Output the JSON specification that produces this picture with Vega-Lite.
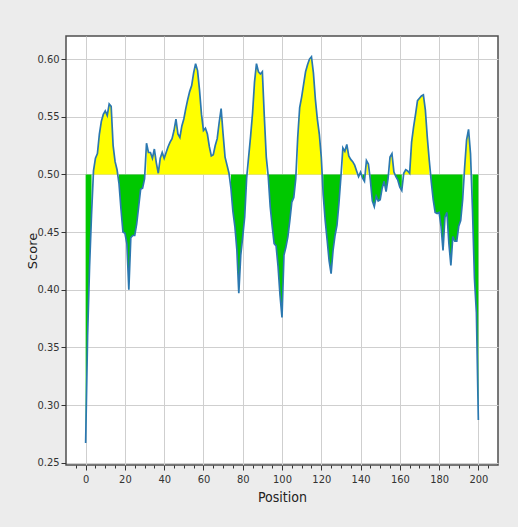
{
  "$schema": "https://vega.github.io/schema/vega-lite/v6.json",
  "width": 432,
  "height": 429,
  "autosize": "none",
  "padding": {"left": 66, "top": 36, "right": 20, "bottom": 62},
  "background": "#ececec",
  "config": {
    "view": {"fill": "white", "stroke": "#4d4d4d", "strokeWidth": 1.5},
    "axis": {
      "labelFont": "DejaVu Sans Condensed",
      "labelFontSize": 11,
      "labelColor": "#333333",
      "tickColor": "#333333",
      "domain": false,
      "gridColor": "#cfcfcf",
      "gridWidth": 1,
      "titleColor": "#222222",
      "titleFontWeight": "normal"
    }
  },
  "data": {
    "values": [
      {"pos": 0, "score": 0.267, "side": "below", "run": 1},
      {"pos": 1, "score": 0.360, "side": "below", "run": 1},
      {"pos": 2, "score": 0.420, "side": "below", "run": 1},
      {"pos": 3, "score": 0.465, "side": "below", "run": 1},
      {"pos": 4, "score": 0.503, "side": "above", "run": 2},
      {"pos": 5, "score": 0.514, "side": "above", "run": 2},
      {"pos": 6, "score": 0.518, "side": "above", "run": 2},
      {"pos": 7, "score": 0.535, "side": "above", "run": 2},
      {"pos": 8, "score": 0.546, "side": "above", "run": 2},
      {"pos": 9, "score": 0.552, "side": "above", "run": 2},
      {"pos": 10, "score": 0.555, "side": "above", "run": 2},
      {"pos": 11, "score": 0.551, "side": "above", "run": 2},
      {"pos": 12, "score": 0.561, "side": "above", "run": 2},
      {"pos": 13, "score": 0.559, "side": "above", "run": 2},
      {"pos": 14, "score": 0.525, "side": "above", "run": 2},
      {"pos": 15, "score": 0.511, "side": "above", "run": 2},
      {"pos": 16, "score": 0.504, "side": "above", "run": 2},
      {"pos": 17, "score": 0.492, "side": "below", "run": 3},
      {"pos": 18, "score": 0.470, "side": "below", "run": 3},
      {"pos": 19, "score": 0.450, "side": "below", "run": 3},
      {"pos": 20, "score": 0.449, "side": "below", "run": 3},
      {"pos": 21, "score": 0.440, "side": "below", "run": 3},
      {"pos": 22, "score": 0.400, "side": "below", "run": 3},
      {"pos": 23, "score": 0.445, "side": "below", "run": 3},
      {"pos": 24, "score": 0.447, "side": "below", "run": 3},
      {"pos": 25, "score": 0.447, "side": "below", "run": 3},
      {"pos": 26, "score": 0.457, "side": "below", "run": 3},
      {"pos": 27, "score": 0.472, "side": "below", "run": 3},
      {"pos": 28, "score": 0.487, "side": "below", "run": 3},
      {"pos": 29, "score": 0.488, "side": "below", "run": 3},
      {"pos": 30, "score": 0.496, "side": "below", "run": 3},
      {"pos": 31, "score": 0.527, "side": "above", "run": 4},
      {"pos": 32, "score": 0.519, "side": "above", "run": 4},
      {"pos": 33, "score": 0.519, "side": "above", "run": 4},
      {"pos": 34, "score": 0.514, "side": "above", "run": 4},
      {"pos": 35, "score": 0.522, "side": "above", "run": 4},
      {"pos": 36, "score": 0.510, "side": "above", "run": 4},
      {"pos": 37, "score": 0.501, "side": "above", "run": 4},
      {"pos": 38, "score": 0.514, "side": "above", "run": 4},
      {"pos": 39, "score": 0.519, "side": "above", "run": 4},
      {"pos": 40, "score": 0.514, "side": "above", "run": 4},
      {"pos": 41, "score": 0.519, "side": "above", "run": 4},
      {"pos": 42, "score": 0.524, "side": "above", "run": 4},
      {"pos": 43, "score": 0.528, "side": "above", "run": 4},
      {"pos": 44, "score": 0.531, "side": "above", "run": 4},
      {"pos": 45, "score": 0.538, "side": "above", "run": 4},
      {"pos": 46, "score": 0.548, "side": "above", "run": 4},
      {"pos": 47, "score": 0.535, "side": "above", "run": 4},
      {"pos": 48, "score": 0.532, "side": "above", "run": 4},
      {"pos": 49, "score": 0.542, "side": "above", "run": 4},
      {"pos": 50, "score": 0.548, "side": "above", "run": 4},
      {"pos": 51, "score": 0.557, "side": "above", "run": 4},
      {"pos": 52, "score": 0.565, "side": "above", "run": 4},
      {"pos": 53, "score": 0.572, "side": "above", "run": 4},
      {"pos": 54, "score": 0.577, "side": "above", "run": 4},
      {"pos": 55, "score": 0.588, "side": "above", "run": 4},
      {"pos": 56, "score": 0.596, "side": "above", "run": 4},
      {"pos": 57, "score": 0.590, "side": "above", "run": 4},
      {"pos": 58, "score": 0.573, "side": "above", "run": 4},
      {"pos": 59, "score": 0.552, "side": "above", "run": 4},
      {"pos": 60, "score": 0.538, "side": "above", "run": 4},
      {"pos": 61, "score": 0.540, "side": "above", "run": 4},
      {"pos": 62, "score": 0.535, "side": "above", "run": 4},
      {"pos": 63, "score": 0.524, "side": "above", "run": 4},
      {"pos": 64, "score": 0.516, "side": "above", "run": 4},
      {"pos": 65, "score": 0.517, "side": "above", "run": 4},
      {"pos": 66, "score": 0.525, "side": "above", "run": 4},
      {"pos": 67, "score": 0.531, "side": "above", "run": 4},
      {"pos": 68, "score": 0.545, "side": "above", "run": 4},
      {"pos": 69, "score": 0.557, "side": "above", "run": 4},
      {"pos": 70, "score": 0.535, "side": "above", "run": 4},
      {"pos": 71, "score": 0.515, "side": "above", "run": 4},
      {"pos": 72, "score": 0.508, "side": "above", "run": 4},
      {"pos": 73, "score": 0.501, "side": "above", "run": 4},
      {"pos": 74, "score": 0.488, "side": "below", "run": 5},
      {"pos": 75, "score": 0.468, "side": "below", "run": 5},
      {"pos": 76, "score": 0.455, "side": "below", "run": 5},
      {"pos": 77, "score": 0.435, "side": "below", "run": 5},
      {"pos": 78, "score": 0.397, "side": "below", "run": 5},
      {"pos": 79, "score": 0.430, "side": "below", "run": 5},
      {"pos": 80, "score": 0.446, "side": "below", "run": 5},
      {"pos": 81, "score": 0.463, "side": "below", "run": 5},
      {"pos": 82, "score": 0.497, "side": "below", "run": 5},
      {"pos": 83, "score": 0.515, "side": "above", "run": 6},
      {"pos": 84, "score": 0.533, "side": "above", "run": 6},
      {"pos": 85, "score": 0.553, "side": "above", "run": 6},
      {"pos": 86, "score": 0.580, "side": "above", "run": 6},
      {"pos": 87, "score": 0.596, "side": "above", "run": 6},
      {"pos": 88, "score": 0.589, "side": "above", "run": 6},
      {"pos": 89, "score": 0.587, "side": "above", "run": 6},
      {"pos": 90, "score": 0.589, "side": "above", "run": 6},
      {"pos": 91, "score": 0.550, "side": "above", "run": 6},
      {"pos": 92, "score": 0.515, "side": "above", "run": 6},
      {"pos": 93, "score": 0.498, "side": "below", "run": 7},
      {"pos": 94, "score": 0.472, "side": "below", "run": 7},
      {"pos": 95, "score": 0.455, "side": "below", "run": 7},
      {"pos": 96, "score": 0.440, "side": "below", "run": 7},
      {"pos": 97, "score": 0.438, "side": "below", "run": 7},
      {"pos": 98, "score": 0.420, "side": "below", "run": 7},
      {"pos": 99, "score": 0.395, "side": "below", "run": 7},
      {"pos": 100, "score": 0.376, "side": "below", "run": 7},
      {"pos": 101, "score": 0.430, "side": "below", "run": 7},
      {"pos": 102, "score": 0.437, "side": "below", "run": 7},
      {"pos": 103, "score": 0.446, "side": "below", "run": 7},
      {"pos": 104, "score": 0.460, "side": "below", "run": 7},
      {"pos": 105, "score": 0.476, "side": "below", "run": 7},
      {"pos": 106, "score": 0.480, "side": "below", "run": 7},
      {"pos": 107, "score": 0.496, "side": "below", "run": 7},
      {"pos": 108, "score": 0.532, "side": "above", "run": 8},
      {"pos": 109, "score": 0.558, "side": "above", "run": 8},
      {"pos": 110, "score": 0.567, "side": "above", "run": 8},
      {"pos": 111, "score": 0.578, "side": "above", "run": 8},
      {"pos": 112, "score": 0.589, "side": "above", "run": 8},
      {"pos": 113, "score": 0.595, "side": "above", "run": 8},
      {"pos": 114, "score": 0.600, "side": "above", "run": 8},
      {"pos": 115, "score": 0.602, "side": "above", "run": 8},
      {"pos": 116, "score": 0.588, "side": "above", "run": 8},
      {"pos": 117, "score": 0.565, "side": "above", "run": 8},
      {"pos": 118, "score": 0.548, "side": "above", "run": 8},
      {"pos": 119, "score": 0.535, "side": "above", "run": 8},
      {"pos": 120, "score": 0.515, "side": "above", "run": 8},
      {"pos": 121, "score": 0.482, "side": "below", "run": 9},
      {"pos": 122, "score": 0.460, "side": "below", "run": 9},
      {"pos": 123, "score": 0.443, "side": "below", "run": 9},
      {"pos": 124, "score": 0.425, "side": "below", "run": 9},
      {"pos": 125, "score": 0.414, "side": "below", "run": 9},
      {"pos": 126, "score": 0.434, "side": "below", "run": 9},
      {"pos": 127, "score": 0.447, "side": "below", "run": 9},
      {"pos": 128, "score": 0.456, "side": "below", "run": 9},
      {"pos": 129, "score": 0.475, "side": "below", "run": 9},
      {"pos": 130, "score": 0.498, "side": "below", "run": 9},
      {"pos": 131, "score": 0.523, "side": "above", "run": 10},
      {"pos": 132, "score": 0.520, "side": "above", "run": 10},
      {"pos": 133, "score": 0.526, "side": "above", "run": 10},
      {"pos": 134, "score": 0.516, "side": "above", "run": 10},
      {"pos": 135, "score": 0.513, "side": "above", "run": 10},
      {"pos": 136, "score": 0.511, "side": "above", "run": 10},
      {"pos": 137, "score": 0.508, "side": "above", "run": 10},
      {"pos": 138, "score": 0.503, "side": "above", "run": 10},
      {"pos": 139, "score": 0.498, "side": "below", "run": 11},
      {"pos": 140, "score": 0.502, "side": "above", "run": 12},
      {"pos": 141, "score": 0.497, "side": "below", "run": 13},
      {"pos": 142, "score": 0.494, "side": "below", "run": 13},
      {"pos": 143, "score": 0.512, "side": "above", "run": 14},
      {"pos": 144, "score": 0.509, "side": "above", "run": 14},
      {"pos": 145, "score": 0.495, "side": "below", "run": 15},
      {"pos": 146, "score": 0.477, "side": "below", "run": 15},
      {"pos": 147, "score": 0.472, "side": "below", "run": 15},
      {"pos": 148, "score": 0.481, "side": "below", "run": 15},
      {"pos": 149, "score": 0.477, "side": "below", "run": 15},
      {"pos": 150, "score": 0.478, "side": "below", "run": 15},
      {"pos": 151, "score": 0.488, "side": "below", "run": 15},
      {"pos": 152, "score": 0.494, "side": "below", "run": 15},
      {"pos": 153, "score": 0.485, "side": "below", "run": 15},
      {"pos": 154, "score": 0.496, "side": "below", "run": 15},
      {"pos": 155, "score": 0.515, "side": "above", "run": 16},
      {"pos": 156, "score": 0.518, "side": "above", "run": 16},
      {"pos": 157, "score": 0.502, "side": "above", "run": 16},
      {"pos": 158, "score": 0.498, "side": "below", "run": 17},
      {"pos": 159, "score": 0.495, "side": "below", "run": 17},
      {"pos": 160, "score": 0.489, "side": "below", "run": 17},
      {"pos": 161, "score": 0.486, "side": "below", "run": 17},
      {"pos": 162, "score": 0.501, "side": "above", "run": 18},
      {"pos": 163, "score": 0.504, "side": "above", "run": 18},
      {"pos": 164, "score": 0.503, "side": "above", "run": 18},
      {"pos": 165, "score": 0.501, "side": "above", "run": 18},
      {"pos": 166, "score": 0.528, "side": "above", "run": 18},
      {"pos": 167, "score": 0.541, "side": "above", "run": 18},
      {"pos": 168, "score": 0.552, "side": "above", "run": 18},
      {"pos": 169, "score": 0.564, "side": "above", "run": 18},
      {"pos": 170, "score": 0.566, "side": "above", "run": 18},
      {"pos": 171, "score": 0.568, "side": "above", "run": 18},
      {"pos": 172, "score": 0.569, "side": "above", "run": 18},
      {"pos": 173, "score": 0.556, "side": "above", "run": 18},
      {"pos": 174, "score": 0.532, "side": "above", "run": 18},
      {"pos": 175, "score": 0.512, "side": "above", "run": 18},
      {"pos": 176, "score": 0.494, "side": "below", "run": 19},
      {"pos": 177, "score": 0.478, "side": "below", "run": 19},
      {"pos": 178, "score": 0.467, "side": "below", "run": 19},
      {"pos": 179, "score": 0.466, "side": "below", "run": 19},
      {"pos": 180, "score": 0.467, "side": "below", "run": 19},
      {"pos": 181, "score": 0.455, "side": "below", "run": 19},
      {"pos": 182, "score": 0.434, "side": "below", "run": 19},
      {"pos": 183, "score": 0.463, "side": "below", "run": 19},
      {"pos": 184, "score": 0.467, "side": "below", "run": 19},
      {"pos": 185, "score": 0.440, "side": "below", "run": 19},
      {"pos": 186, "score": 0.421, "side": "below", "run": 19},
      {"pos": 187, "score": 0.446, "side": "below", "run": 19},
      {"pos": 188, "score": 0.442, "side": "below", "run": 19},
      {"pos": 189, "score": 0.442, "side": "below", "run": 19},
      {"pos": 190, "score": 0.455, "side": "below", "run": 19},
      {"pos": 191, "score": 0.460, "side": "below", "run": 19},
      {"pos": 192, "score": 0.478, "side": "below", "run": 19},
      {"pos": 193, "score": 0.506, "side": "above", "run": 20},
      {"pos": 194, "score": 0.530, "side": "above", "run": 20},
      {"pos": 195, "score": 0.539, "side": "above", "run": 20},
      {"pos": 196, "score": 0.518, "side": "above", "run": 20},
      {"pos": 197, "score": 0.470, "side": "below", "run": 21},
      {"pos": 198, "score": 0.410, "side": "below", "run": 21},
      {"pos": 199, "score": 0.380, "side": "below", "run": 21},
      {"pos": 200, "score": 0.287, "side": "below", "run": 21}
    ]
  },
  "layer": [
    {
      "mark": {"type": "area", "opacity": 1},
      "encoding": {
        "x": {
          "field": "pos",
          "type": "quantitative",
          "scale": {"domain": [-10, 210], "nice": false, "zero": false},
          "axis": {
            "values": [0, 20, 40, 60, 80, 100, 120, 140, 160, 180, 200],
            "grid": true,
            "tickSize": 5,
            "labelPadding": 3,
            "title": "Position",
            "titleFont": "DejaVu Sans Condensed",
            "titleFontSize": 14,
            "titlePadding": 6,
            "orient": "bottom"
          }
        },
        "y": {
          "field": "score",
          "type": "quantitative",
          "scale": {"domain": [0.248, 0.62], "nice": false, "zero": false},
          "axis": {
            "values": [0.25, 0.3, 0.35, 0.4, 0.45, 0.5, 0.55, 0.6],
            "format": ".2f",
            "grid": true,
            "tickSize": 5,
            "labelPadding": 2,
            "title": "Score",
            "titleFont": "DejaVu Sans",
            "titleFontSize": 13,
            "titlePadding": -3
          }
        },
        "y2": {"datum": 0.5},
        "color": {
          "field": "side",
          "type": "nominal",
          "scale": {"domain": ["above", "below"], "range": ["#ffff00", "#00c800"]},
          "legend": null
        },
        "detail": {"field": "run", "type": "nominal"}
      }
    },
    {
      "mark": {"type": "line", "color": "#2b78b0", "strokeWidth": 1.7},
      "encoding": {
        "x": {
          "field": "pos",
          "type": "quantitative",
          "axis": {
            "values": [-5, 5, 10, 15, 25, 30, 35, 45, 50, 55, 65, 70, 75, 85, 90, 95, 105, 110, 115, 125, 130, 135, 145, 150, 155, 165, 170, 175, 185, 190, 195, 205],
            "grid": false,
            "labels": false,
            "tickSize": 3,
            "title": null,
            "orient": "bottom"
          }
        },
        "y": {"field": "score", "type": "quantitative"}
      }
    }
  ],
  "resolve": {"axis": {"x": "independent"}}
}
